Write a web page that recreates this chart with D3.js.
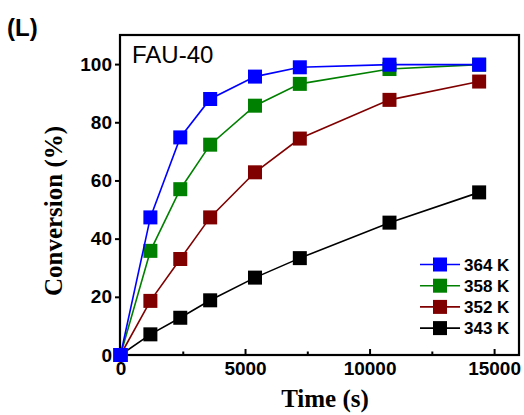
<!DOCTYPE html>
<html>
<head>
<meta charset="utf-8">
<script src="https://cdn.jsdelivr.net/npm/d3@7"></script>
<style>
  html, body { margin: 0; padding: 0; background: #fff; }
  svg { display: block; }
</style>
</head>
<body>
<svg id="chart" width="524" height="415"></svg>
<script>
// Reaction time (s) at which conversion was sampled
const times = [0, 1200, 2400, 3600, 5400, 7200, 10800, 14400];

// Conversion (%) at each temperature
const conv364 = [0, 47.3, 74.8, 88.0, 95.7, 98.9, 99.8, 99.8];
const conv358 = [0, 35.8, 57.0, 72.3, 85.7, 93.2, 98.3, 99.8];
const conv352 = [0, 18.6, 33.0, 47.3, 62.8, 74.4, 87.7, 94.0];
const conv343 = [0, 7.1, 12.8, 18.8, 26.6, 33.3, 45.5, 55.9];

const seriesNames = ["364 K", "358 K", "352 K", "343 K"];
const seriesColors = ["#0000ff", "#008000", "#800000", "#000000"];
const seriesValues = [conv364, conv358, conv352, conv343];

const xTicks = [0, 5000, 10000, 15000];
const xMinorTicks = [2500, 7500, 12500];
const yTicks = [0, 20, 40, 60, 80, 100];

const svg = d3.select("#chart");
const plotLeft = 120, plotRight = 519, plotTop = 35, plotBottom = 355;

const x = d3.scaleLinear().domain([0, 16000]).range([plotLeft + 0.5, plotRight]);
const y = d3.scaleLinear().domain([0, 110]).range([plotBottom, plotTop]);

// Frame
svg.append("rect")
  .attr("x", plotLeft).attr("y", plotTop)
  .attr("width", plotRight - plotLeft).attr("height", plotBottom - plotTop)
  .attr("fill", "none").attr("stroke", "#000").attr("stroke-width", 2.2);

// Bottom axis: ticks point into the plot
const xAxis = svg.append("g").attr("transform", `translate(0,${plotBottom})`)
  .call(d3.axisBottom(x).tickValues(xTicks).tickSizeInner(-6).tickSizeOuter(0).tickPadding(10).tickFormat(d3.format("d")));
xAxis.select(".domain").remove();
xAxis.selectAll(".tick line").attr("stroke-width", 2);
xAxis.selectAll(".tick text")
  .attr("font-family", "Liberation Sans, Arial, sans-serif")
  .attr("font-weight", "bold").attr("font-size", 19).attr("fill", "#000")
  .attr("dy", "0.71em").attr("y", 7);

const xMinor = svg.append("g").attr("transform", `translate(0,${plotBottom})`)
  .call(d3.axisBottom(x).tickValues(xMinorTicks).tickSizeInner(-3.5).tickSizeOuter(0).tickFormat(""));
xMinor.select(".domain").remove();
xMinor.selectAll(".tick line").attr("stroke-width", 2);

// Left axis: ticks point outward
const yAxis = svg.append("g").attr("transform", `translate(${plotLeft},0)`)
  .call(d3.axisLeft(y).tickValues(yTicks).tickSizeInner(5).tickSizeOuter(0).tickPadding(3));
yAxis.select(".domain").remove();
yAxis.selectAll(".tick line").attr("stroke-width", 2);
yAxis.selectAll(".tick text")
  .attr("font-family", "Liberation Sans, Arial, sans-serif")
  .attr("font-weight", "bold").attr("font-size", 19).attr("fill", "#000");

// Axis titles
svg.append("text")
  .attr("x", 325).attr("y", 407)
  .attr("text-anchor", "middle")
  .attr("font-family", "Liberation Serif, Times New Roman, serif")
  .attr("font-weight", "bold").attr("font-size", 25)
  .text("Time (s)");

svg.append("text")
  .attr("transform", "translate(62,211) rotate(-90)")
  .attr("text-anchor", "middle")
  .attr("font-family", "Liberation Serif, Times New Roman, serif")
  .attr("font-weight", "bold").attr("font-size", 25)
  .text("Conversion (%)");

// Panel label and sample name
svg.append("text")
  .attr("x", 7).attr("y", 36)
  .attr("font-family", "Liberation Sans, Arial, sans-serif")
  .attr("font-weight", "bold").attr("font-size", 24)
  .text("(L)");

svg.append("text")
  .attr("x", 132).attr("y", 63)
  .attr("font-family", "Liberation Sans, Arial, sans-serif")
  .attr("font-size", 24)
  .text("FAU-40");

// Series, drawn from the coolest up so the 364 K curve sits on top
const line = d3.line().x((d, i) => x(times[i])).y(d => y(d));
const order = [3, 2, 1, 0];
const ms = 14;

order.forEach(k => {
  const g = svg.append("g");
  g.append("path")
    .datum(seriesValues[k])
    .attr("d", line)
    .attr("fill", "none")
    .attr("stroke", seriesColors[k])
    .attr("stroke-width", 1.6);
  g.selectAll("rect")
    .data(seriesValues[k])
    .join("rect")
    .attr("x", (d, i) => x(times[i]) - ms / 2)
    .attr("y", d => y(d) - ms / 2)
    .attr("width", ms).attr("height", ms)
    .attr("fill", seriesColors[k]);
});

// Legend
const legend = svg.append("g");
seriesNames.forEach((name, i) => {
  const cy = 264.5 + i * 21.2;
  legend.append("line")
    .attr("x1", 420).attr("x2", 460).attr("y1", cy).attr("y2", cy)
    .attr("stroke", seriesColors[i]).attr("stroke-width", 1.6);
  legend.append("rect")
    .attr("x", 440 - ms / 2).attr("y", cy - ms / 2)
    .attr("width", ms).attr("height", ms)
    .attr("fill", seriesColors[i]);
  legend.append("text")
    .attr("x", 464).attr("y", cy)
    .attr("dy", "0.36em")
    .attr("font-family", "Liberation Sans, Arial, sans-serif")
    .attr("font-weight", "bold").attr("font-size", 17)
    .text(name);
});
</script>
</body>
</html>
